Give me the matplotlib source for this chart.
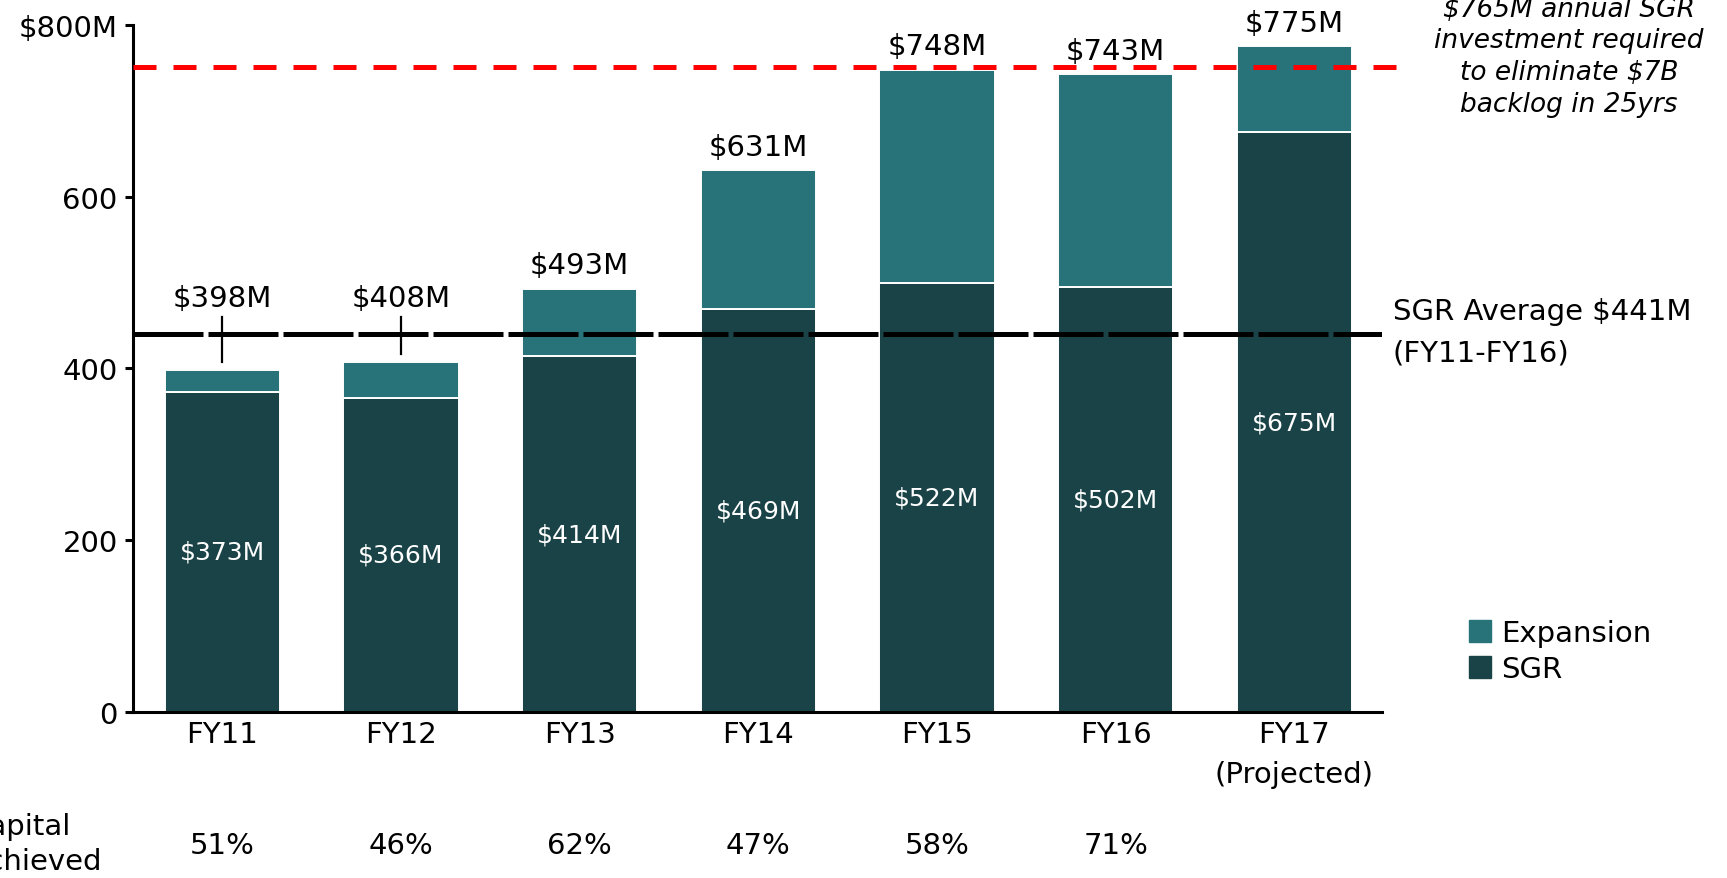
import matplotlib.pyplot as plt
import matplotlib.transforms as mtransforms
from matplotlib.patches import Patch

years = ["FY11", "FY12", "FY13", "FY14", "FY15", "FY16", "FY17\n(Projected)"]
totals = [398, 408, 493, 631, 748, 743, 775]
sgr = [373, 366, 414, 469, 500, 495, 675]          # drawn heights
sgr_text = [373, 366, 414, 469, 522, 502, 675]     # printed values
capital_pct = ["51%", "46%", "62%", "47%", "58%", "71%", ""]
sgr_average = 440
target_line = 751

expansion = [t - s for t, s in zip(totals, sgr)]

SGR_COLOR = "#1a4347"
EXP_COLOR = "#28727a"
FS = 21

fig = plt.figure(figsize=(17.27, 8.79), dpi=100)
ax = fig.add_axes([0.0770, 0.1889, 0.7232, 0.7815])

x = list(range(len(years)))
ax.bar(x, sgr, width=0.645, color=SGR_COLOR, edgecolor="white", linewidth=1.4, zorder=2)
ax.bar(x, expansion, width=0.645, bottom=sgr, color=EXP_COLOR, edgecolor="white",
       linewidth=1.4, zorder=2)

# reference lines
ax.axhline(sgr_average, color="black", lw=3.6, ls=(0, (14, 1)), zorder=3)
ax.plot([-0.5, 6.66], [target_line, target_line], color="#ff0000", lw=3.6,
        ls=(0, (4.6, 3.4)), clip_on=False, zorder=3)

# labels on the bars
for i in x:
    ax.text(i, sgr[i] / 2, "$%dM" % sgr_text[i], color="white", fontsize=18,
            ha="center", va="center", zorder=4)
    if i < 2:
        ax.text(i, 473, "$%dM" % totals[i], fontsize=FS, ha="center", va="baseline")
        ax.plot([i, i], [totals[i] + 9, 460], color="black", lw=1.6, zorder=4)
    else:
        ax.text(i, totals[i] + 18, "$%dM" % totals[i], fontsize=FS, ha="center",
                va="baseline")

ax.set_xlim(-0.5, 6.49)
ax.set_ylim(0, 800)
ax.set_xticks(x)
ax.set_xticklabels(years, fontsize=FS, linespacing=1.55)
ax.set_yticks([0, 200, 400, 600, 800])
ax.set_yticklabels(["0", "200", "400", "600", "$800M"], fontsize=FS)
ax.tick_params(axis="x", length=0, pad=6)
ax.tick_params(axis="y", length=6, width=2.2, pad=5)

for side in ["top", "right"]:
    ax.spines[side].set_visible(False)
for side in ["left", "bottom"]:
    ax.spines[side].set_linewidth(2.2)

# capital achieved row (cut off at the left edge, as in the original slide)
trans = mtransforms.blended_transform_factory(ax.transData, fig.transFigure)
for i in x:
    ax.text(i, 0.0375, capital_pct[i], transform=trans, fontsize=FS,
            ha="center", va="center")
fig.text(-0.0182, 0.0390, "Capital\nAchieved", fontsize=FS, ha="left", va="center",
         linespacing=1.3)

fig.text(0.8066, 0.589, "SGR Average $441M\n(FY11-FY16)", fontsize=FS,
         ha="left", va="baseline", linespacing=1.6)
fig.text(0.9085, 0.873, "$765M annual SGR\ninvestment required\nto eliminate $7B\nbacklog in 25yrs",
         fontsize=19, style="italic", ha="center", va="baseline", linespacing=1.28)

handles = [Patch(color=EXP_COLOR), Patch(color=SGR_COLOR)]
ax.legend(handles, ["Expansion", "SGR"], loc="center left", bbox_to_anchor=(0.8506, 0.258),
          bbox_transform=fig.transFigure, frameon=False, fontsize=FS, handlelength=0.75,
          handleheight=0.75, handletextpad=0.35, labelspacing=0.28, borderpad=0,
          borderaxespad=0)

plt.savefig("out.png", dpi=100)
